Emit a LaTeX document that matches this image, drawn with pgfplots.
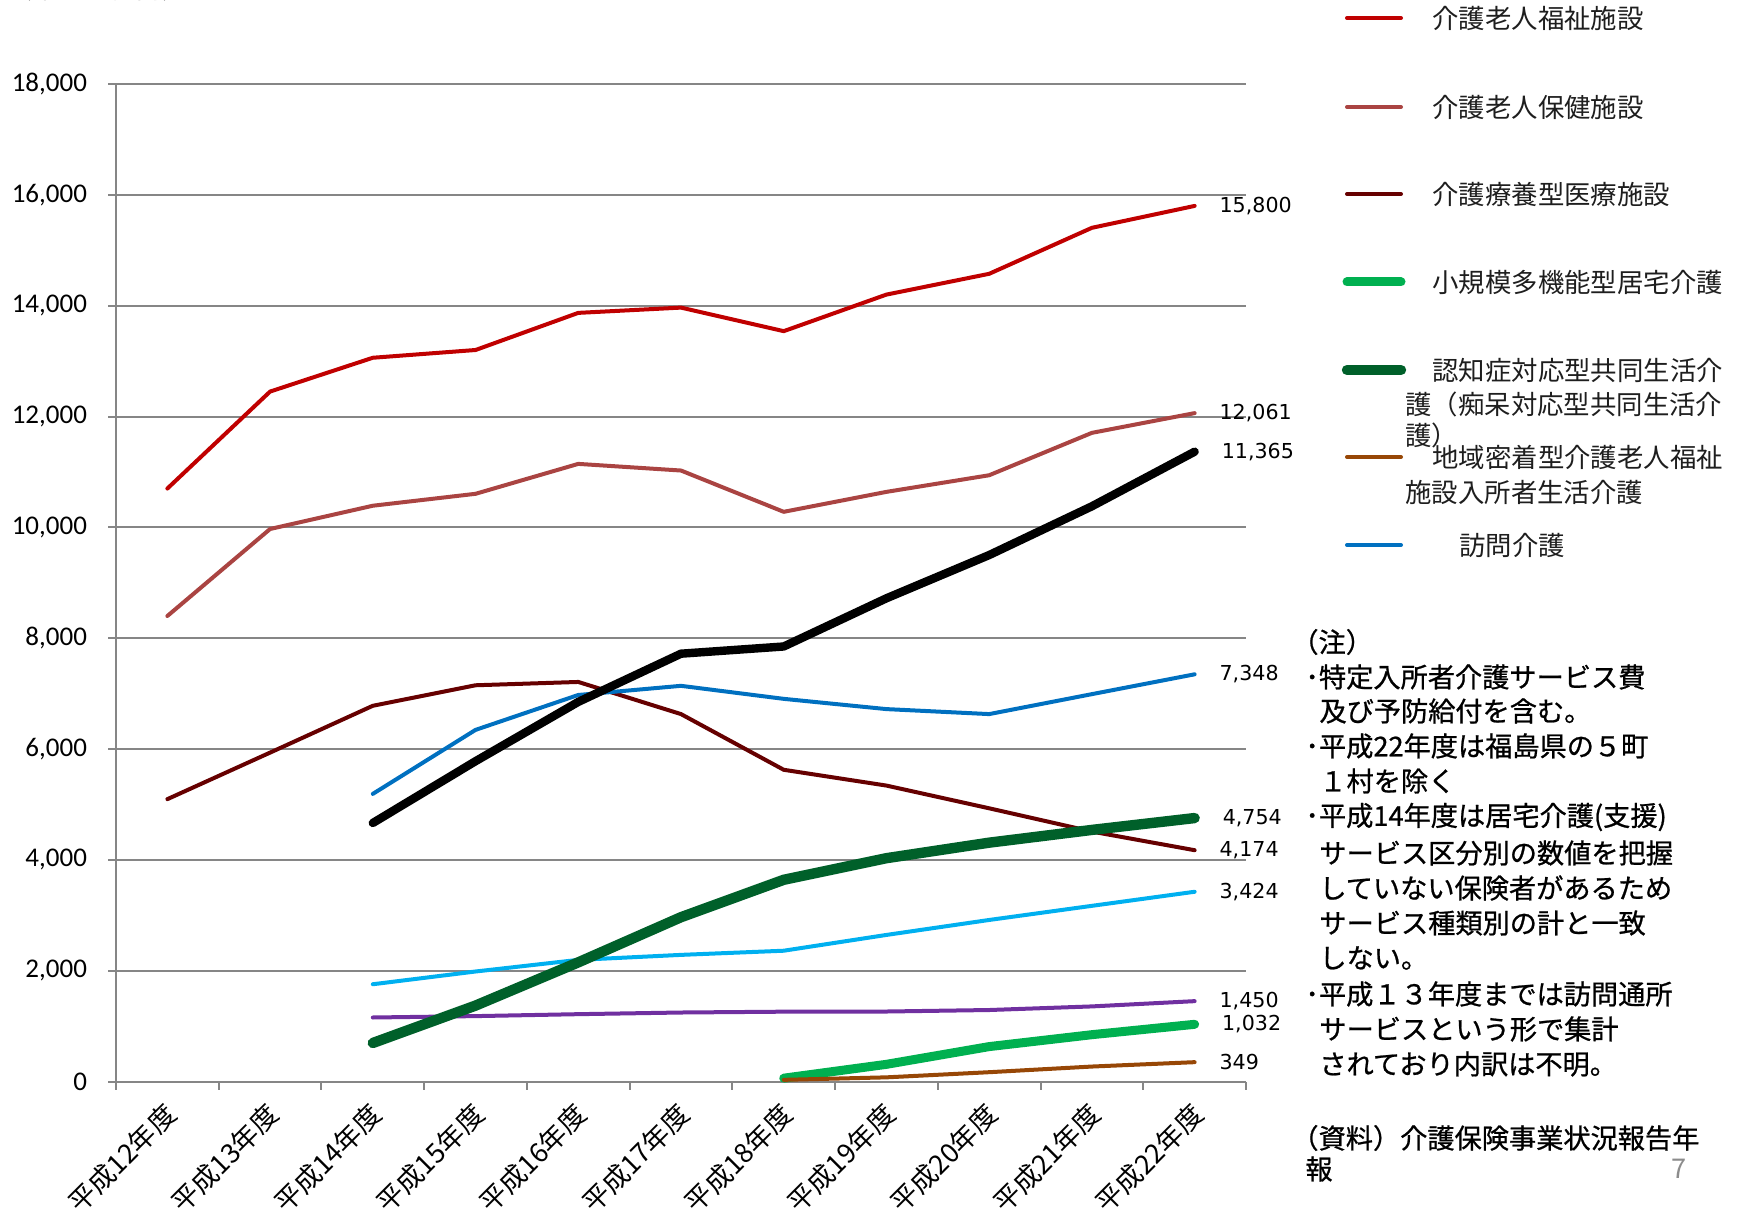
\documentclass[border=0pt]{standalone}
\usepackage{fontspec}
\setmainfont{Noto Sans CJK JP}
\newfontfamily\jp{Noto Sans CJK JP}
\newfontfamily\jpb[FakeBold=0.8]{Noto Sans CJK JP}
\newfontfamily\carlito{Carlito}
\newfontfamily\dejavu{DejaVu Sans}
\usepackage{pgfplots}
\pgfplotsset{compat=1.18}
\definecolor{gridgray}{RGB}{134,134,134}
\definecolor{cA}{RGB}{192,0,0}
\definecolor{cB}{RGB}{170,68,66}
\definecolor{cC}{RGB}{102,0,0}
\definecolor{cD}{RGB}{0,176,80}
\definecolor{cE}{RGB}{0,96,42}
\definecolor{cF}{RGB}{151,71,6}
\definecolor{cG}{RGB}{0,112,192}
\definecolor{cH}{RGB}{0,176,240}
\definecolor{cI}{RGB}{112,48,160}
\definecolor{txt}{RGB}{30,30,30}
\tikzset{lbl/.style={pos=1, anchor=west, xshift=11.5pt, inner sep=0pt, font=\dejavu\fontsize{10.3}{10.3}\selectfont, text=black}}
\begin{document}
\begin{tikzpicture}
\useasboundingbox (0,0) rectangle (870.5pt,-604.5pt);
\begin{axis}[
  at={(58pt,-540.75pt)}, anchor=south west,
  width=565pt, height=498.75pt, scale only axis,
  xmin=-0.5, xmax=10.5, ymin=0, ymax=18000,
  clip=false,
  axis x line*=bottom, axis y line*=left,
  axis line style={draw=gridgray, line width=1pt},
  ytick={0,2000,4000,6000,8000,10000,12000,14000,16000,18000},
  scaled y ticks=false,
  ymajorgrids, grid style={draw=gridgray, line width=1pt},
  xtick={-0.5,0.5,1.5,2.5,3.5,4.5,5.5,6.5,7.5,8.5,9.5,10.5},
  xticklabels={},
  extra x ticks={0,1,2,3,4,5,6,7,8,9,10},
  extra x tick labels={平成12年度,平成13年度,平成14年度,平成15年度,平成16年度,平成17年度,平成18年度,平成19年度,平成20年度,平成21年度,平成22年度},
  extra x tick style={major tick length=0pt, tick label style={rotate=45, anchor=east, font=\jp\fontsize{13.5}{13.5}\selectfont, inner sep=1pt, yshift=-11.2pt, xshift=-7.5pt}},
  tick align=outside,
  major tick length=4pt,
  tick style={draw=gridgray, line width=1pt},
  yticklabel style={font=\carlito\fontsize{13.5}{13.5}\selectfont, xshift=-7pt},
  /pgf/number format/.cd, fixed, 1000 sep={,}, assume math mode=true,
]
% 介護老人福祉施設
\addplot[cA, line width=2pt, line join=round, line cap=round] coordinates {
(0,10700) (1,12450) (2,13060) (3,13200) (4,13870) (5,13965) (6,13540) (7,14200) (8,14575) (9,15405) (10,15800)
} node[lbl] {15,800};
% 介護老人保健施設
\addplot[cB, line width=2pt, line join=round, line cap=round] coordinates {
(0,8400) (1,9970) (2,10390) (3,10605) (4,11145) (5,11025) (6,10280) (7,10640) (8,10940) (9,11705) (10,12061)
} node[lbl] {12,061};
% 介護療養型医療施設
\addplot[cC, line width=2pt, line join=round, line cap=round] coordinates {
(0,5095) (1,5935) (2,6780) (3,7150) (4,7210) (5,6630) (6,5625) (7,5340) (8,4930) (9,4510) (10,4174)
} node[lbl] {4,174};
% 訪問介護
\addplot[cG, line width=2pt, line join=round, line cap=round] coordinates {
(2,5190) (3,6345) (4,6975) (5,7140) (6,6905) (7,6720) (8,6630) (9,6990) (10,7348)
} node[lbl] {7,348};
% light blue
\addplot[cH, line width=2pt, line join=round, line cap=round] coordinates {
(2,1755) (3,1985) (4,2195) (5,2285) (6,2360) (7,2645) (8,2915) (9,3170) (10,3424)
} node[lbl] {3,424};
% purple
\addplot[cI, line width=2pt, line join=round, line cap=round] coordinates {
(2,1155) (3,1180) (4,1215) (5,1245) (6,1260) (7,1263) (8,1290) (9,1355) (10,1450)
} node[lbl] {1,450};
% black
\addplot[black, line width=4.2pt, line join=round, line cap=round] coordinates {
(2,4665) (3,5780) (4,6850) (5,7720) (6,7850) (7,8720) (8,9500) (9,10380) (10,11365)
} node[lbl] {11,365};
% 認知症対応型共同生活介護
\addplot[cE, line width=5.2pt, line join=round, line cap=round] coordinates {
(2,695) (3,1370) (4,2150) (5,2965) (6,3640) (7,4030) (8,4310) (9,4540) (10,4754)
} node[lbl] {4,754};
% 小規模多機能型居宅介護
\addplot[cD, line width=4.5pt, line join=round, line cap=round] coordinates {
(6,60) (7,310) (8,630) (9,845) (10,1032)
} node[lbl] {1,032};
% 地域密着型介護老人福祉施設入所者生活介護
\addplot[cF, line width=2pt, line join=round, line cap=round] coordinates {
(6,30) (7,75) (8,168) (9,270) (10,349)
} node[lbl] {349};
\end{axis}
\begin{scope}[x=0.5pt, y=-0.5pt]
\node[anchor=south west, inner sep=0pt, font=\jp\fontsize{13}{13}\selectfont, text=txt] at (6,1) {（単位：億円）};
% legend
\begin{scope}[font=\jp\fontsize{13.2}{13.2}\selectfont, text=txt, every node/.style={anchor=west, inner sep=0pt}]
\draw[cA, line width=2pt, line cap=round] (1347,18) -- (1401,18);
\node at (1432,18) {介護老人福祉施設};
\draw[cB, line width=2pt, line cap=round] (1347,107) -- (1401,107);
\node at (1432,107) {介護老人保健施設};
\draw[cC, line width=2pt, line cap=round] (1347,194) -- (1401,194);
\node at (1432,194) {介護療養型医療施設};
\draw[cD, line width=4.5pt, line cap=round] (1347,282) -- (1401,282);
\node at (1432,282) {小規模多機能型居宅介護};
\draw[cE, line width=5.2pt, line cap=round] (1347,370) -- (1401,370);
\node at (1432,370) {認知症対応型共同生活介};
\node at (1405,404) {護（痴呆対応型共同生活介};
\node at (1405,435) {護）};
\draw[cF, line width=2pt, line cap=round] (1347,457) -- (1401,457);
\node at (1432,457) {地域密着型介護老人福祉};
\node at (1405,492) {施設入所者生活介護};
\draw[cG, line width=2pt, line cap=round] (1347,545) -- (1401,545);
\node at (1459,545) {訪問介護};
\end{scope}
% notes
\begin{scope}[font=\jpb\fontsize{13.6}{13.6}\selectfont, text=black, every node/.style={anchor=west, inner sep=0pt}]
\node at (1291,642) {（注）};
\node at (1305,677) {･特定入所者介護サービス費};
\node at (1319,711) {及び予防給付を含む。};
\node at (1305,746) {･平成22年度は福島県の５町};
\node at (1319,781) {１村を除く};
\node at (1305,817) {･平成14年度は居宅介護(支援)};
\node at (1319,853) {サービス区分別の数値を把握};
\node at (1319,888) {していない保険者があるため};
\node at (1319,923) {サービス種類別の計と一致};
\node at (1319,958) {しない。};
\node at (1305,994) {･平成１３年度までは訪問通所};
\node at (1319,1029) {サービスという形で集計};
\node at (1319,1064) {されており内訳は不明。};
\node at (1291,1138) {（資料）介護保険事業状況報告年};
\node at (1305,1169) {報};
\node[anchor=center, font=\jp\fontsize{13.6}{13.6}\selectfont, text={rgb,255:red,140;green,140;blue,140}] at (1679,1169) {7};
\end{scope}
\end{scope}
\end{tikzpicture}
\end{document}
